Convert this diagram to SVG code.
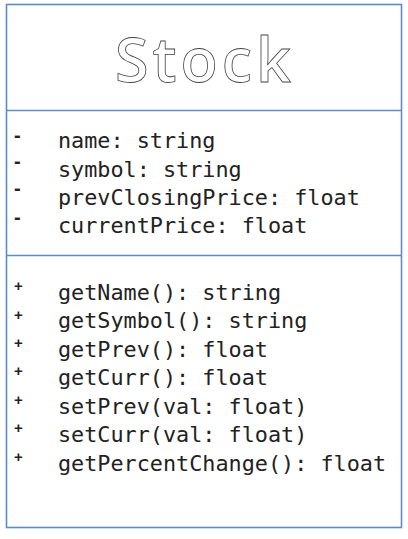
<svg xmlns="http://www.w3.org/2000/svg" width="408" height="539" viewBox="0 0 408 539">
<style>
.frame{fill:#ffffff;stroke:#5b8dc4;stroke-width:1.6}
.div{stroke:#5b8dc4;stroke-width:1.6}
.title{font-family:"Open Sans","DejaVu Sans",sans-serif;font-size:61px;font-weight:600;fill:#ffffff;stroke:#444444;stroke-width:0.8;letter-spacing:4px}
.mem{font-family:"DejaVu Sans Mono","Liberation Mono",monospace;font-size:21.8px;fill:#222222}
.vis{font-family:"Liberation Sans",Arial,sans-serif;font-size:20px;font-weight:bold;fill:#222222}
.visp{font-family:"Liberation Sans",Arial,sans-serif;font-size:15px;font-weight:bold;fill:#222222}
</style>
<rect width="408" height="539" fill="#ffffff"/>
<g id="class-Stock">
<rect class="frame" x="6.5" y="4.5" width="395" height="523"/>
<line class="div" x1="6.5" y1="110.5" x2="401.5" y2="110.5"/>
<line class="div" x1="6.5" y1="255.5" x2="401.5" y2="255.5"/>
<text class="title" x="205" y="81.5" text-anchor="middle">Stock</text>
<g id="attributes">
<text class="vis" x="14" y="142">-</text>
<text class="vis" x="14" y="168">-</text>
<text class="vis" x="14" y="195">-</text>
<text class="vis" x="14" y="224">-</text>
<text class="mem" x="58" y="148">name: string</text>
<text class="mem" x="58" y="177">symbol: string</text>
<text class="mem" x="58" y="205">prevClosingPrice: float</text>
<text class="mem" x="58" y="233">currentPrice: float</text>
</g>
<g id="operations">
<text class="visp" x="14" y="291">+</text>
<text class="visp" x="14" y="320">+</text>
<text class="visp" x="14" y="348">+</text>
<text class="visp" x="14" y="376">+</text>
<text class="visp" x="14" y="405">+</text>
<text class="visp" x="14" y="433">+</text>
<text class="visp" x="14" y="462">+</text>
<text class="mem" x="58" y="300">getName(): string</text>
<text class="mem" x="58" y="328">getSymbol(): string</text>
<text class="mem" x="58" y="357">getPrev(): float</text>
<text class="mem" x="58" y="385">getCurr(): float</text>
<text class="mem" x="58" y="414">setPrev(val: float)</text>
<text class="mem" x="58" y="442">setCurr(val: float)</text>
<text class="mem" x="58" y="471">getPercentChange(): float</text>
</g>
</g>
</svg>
